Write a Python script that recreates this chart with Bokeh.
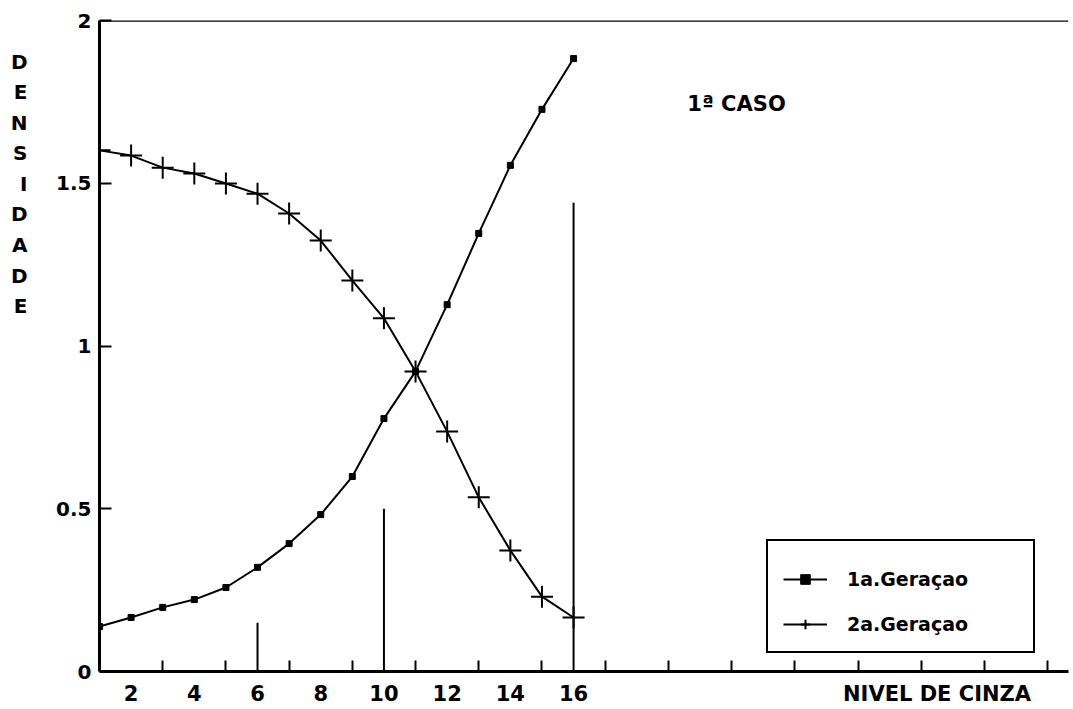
from bokeh.plotting import figure
from bokeh.models import FixedTicker, Span, Label, Legend, LegendItem, Range1d, LinearAxis
from bokeh.embed import file_html
from bokeh.resources import INLINE

# ---- data ----
gray = list(range(1, 17))
ger1 = [0.138, 0.166, 0.197, 0.221, 0.258, 0.320, 0.393, 0.482, 0.599, 0.777,
        0.922, 1.127, 1.346, 1.555, 1.727, 1.883]
ger2 = [1.601, 1.585, 1.548, 1.530, 1.499, 1.468, 1.407, 1.324, 1.201, 1.085,
        0.922, 0.737, 0.535, 0.372, 0.230, 0.166]
bar_x = [6, 10, 16]
bar_top = [0.15, 0.50, 1.44]
x_label_ticks = [2, 4, 6, 8, 10, 12, 14, 16]
x_minor_ticks = list(range(3, 32, 2))
y_ticks = [0, 0.5, 1, 1.5, 2]
y_tick_labels = ["0", "0.5", "1", "1.5", "2"]
y_title = "DENSIDADE"
x_title = "NIVEL DE CINZA"
x_title_pos = 27.5
case_text = "1\u00aa CASO"
names = ["1a.Gera\u00e7ao", "2a.Gera\u00e7ao"]

FONT = "DejaVu Sans"

p = figure(width=1073, height=709, x_range=Range1d(1, 31.66), y_range=Range1d(0, 2),
           output_backend="svg", toolbar_location=None,
           min_border_left=99, min_border_top=20, min_border_bottom=38, min_border_right=5)
p.outline_line_color = None
p.xgrid.grid_line_color = None
p.ygrid.grid_line_color = None
p.background_fill_color = "white"
p.border_fill_color = "white"

# x axis
xa = p.xaxis[0]
xa.ticker = FixedTicker(ticks=x_label_ticks + [x_title_pos], minor_ticks=x_minor_ticks)
xa.major_label_overrides = {x_title_pos: x_title}
xa.major_tick_line_color = None
xa.major_tick_out = 0
xa.major_tick_in = 0
xa.minor_tick_in = 11
xa.minor_tick_out = 0
xa.minor_tick_line_width = 2
xa.minor_tick_line_color = "black"
xa.axis_line_width = 3
xa.axis_line_color = "black"
xa.major_label_text_font = FONT
xa.major_label_text_font_style = "bold"
xa.major_label_text_font_size = "21px"
xa.major_label_text_color = "black"
xa.major_label_standoff = 10

# y axis
ya = p.yaxis[0]
ya.ticker = FixedTicker(ticks=y_ticks, minor_ticks=[])
ya.major_label_overrides = {t: s for t, s in zip(y_ticks, y_tick_labels)}
ya.major_tick_in = 12
ya.major_tick_out = 0
ya.major_tick_line_width = 2
ya.minor_tick_line_color = None
ya.axis_line_width = 3
ya.axis_line_color = "black"
ya.major_label_text_font = FONT
ya.major_label_text_font_style = "bold"
ya.major_label_text_font_size = "20px"
ya.major_label_text_color = "black"
ya.major_label_standoff = 8

# stacked vertical title, written as the labels of a second (line-less) left axis
letter_pos = [round(1.874 - i * 0.094, 3) for i in range(len(y_title))]
ta = LinearAxis(ticker=FixedTicker(ticks=letter_pos, minor_ticks=[]),
                major_label_overrides={pos: ch for pos, ch in zip(letter_pos, y_title)},
                axis_line_color=None, major_tick_line_color=None, minor_tick_line_color=None,
                major_tick_in=0, major_tick_out=0, minor_tick_out=0, minor_tick_in=0,
                major_label_standoff=26, major_label_text_font=FONT,
                major_label_text_font_style="bold", major_label_text_font_size="20px",
                major_label_text_color="black", major_label_text_align="center")
p.add_layout(ta, "left")

# top border line
p.add_layout(Span(location=2, dimension="width", line_color="black", line_width=2.5))

# vertical marker lines
p.segment(x0=bar_x, y0=[0] * len(bar_x), x1=bar_x, y1=bar_top,
          line_color="black", line_width=2)

# series
l1 = p.line(gray, ger1, line_color="black", line_width=2)
s1 = p.scatter(gray, ger1, marker="square", size=6, fill_color="black", line_color="black")
l2 = p.line(gray, ger2, line_color="black", line_width=2)
s2 = p.scatter(gray, ger2, marker="cross", size=22, line_color="black", line_width=2)

legend = Legend(items=[LegendItem(label=names[0], renderers=[l1, s1]),
                       LegendItem(label=names[1], renderers=[l2, s2])],
                location=(667, 18), padding=15, spacing=21, margin=0,
                title=" ", title_text_font_size="10px", title_standoff=0,
                glyph_width=44, glyph_height=24, label_height=24,
                label_standoff=20, label_width=171,
                border_line_color="black", border_line_width=2, border_line_alpha=1,
                background_fill_color="white", background_fill_alpha=1,
                label_text_font=FONT, label_text_font_style="bold",
                label_text_font_size="19px", label_text_color="black")
p.add_layout(legend)

# case annotation
p.add_layout(Label(x=19.6, y=1.745, text=case_text, text_font=FONT, text_font_style="bold",
                   text_font_size="21px", text_baseline="middle", text_align="left",
                   text_color="black"))

open("out.html", "w").write(file_html(p, INLINE))
